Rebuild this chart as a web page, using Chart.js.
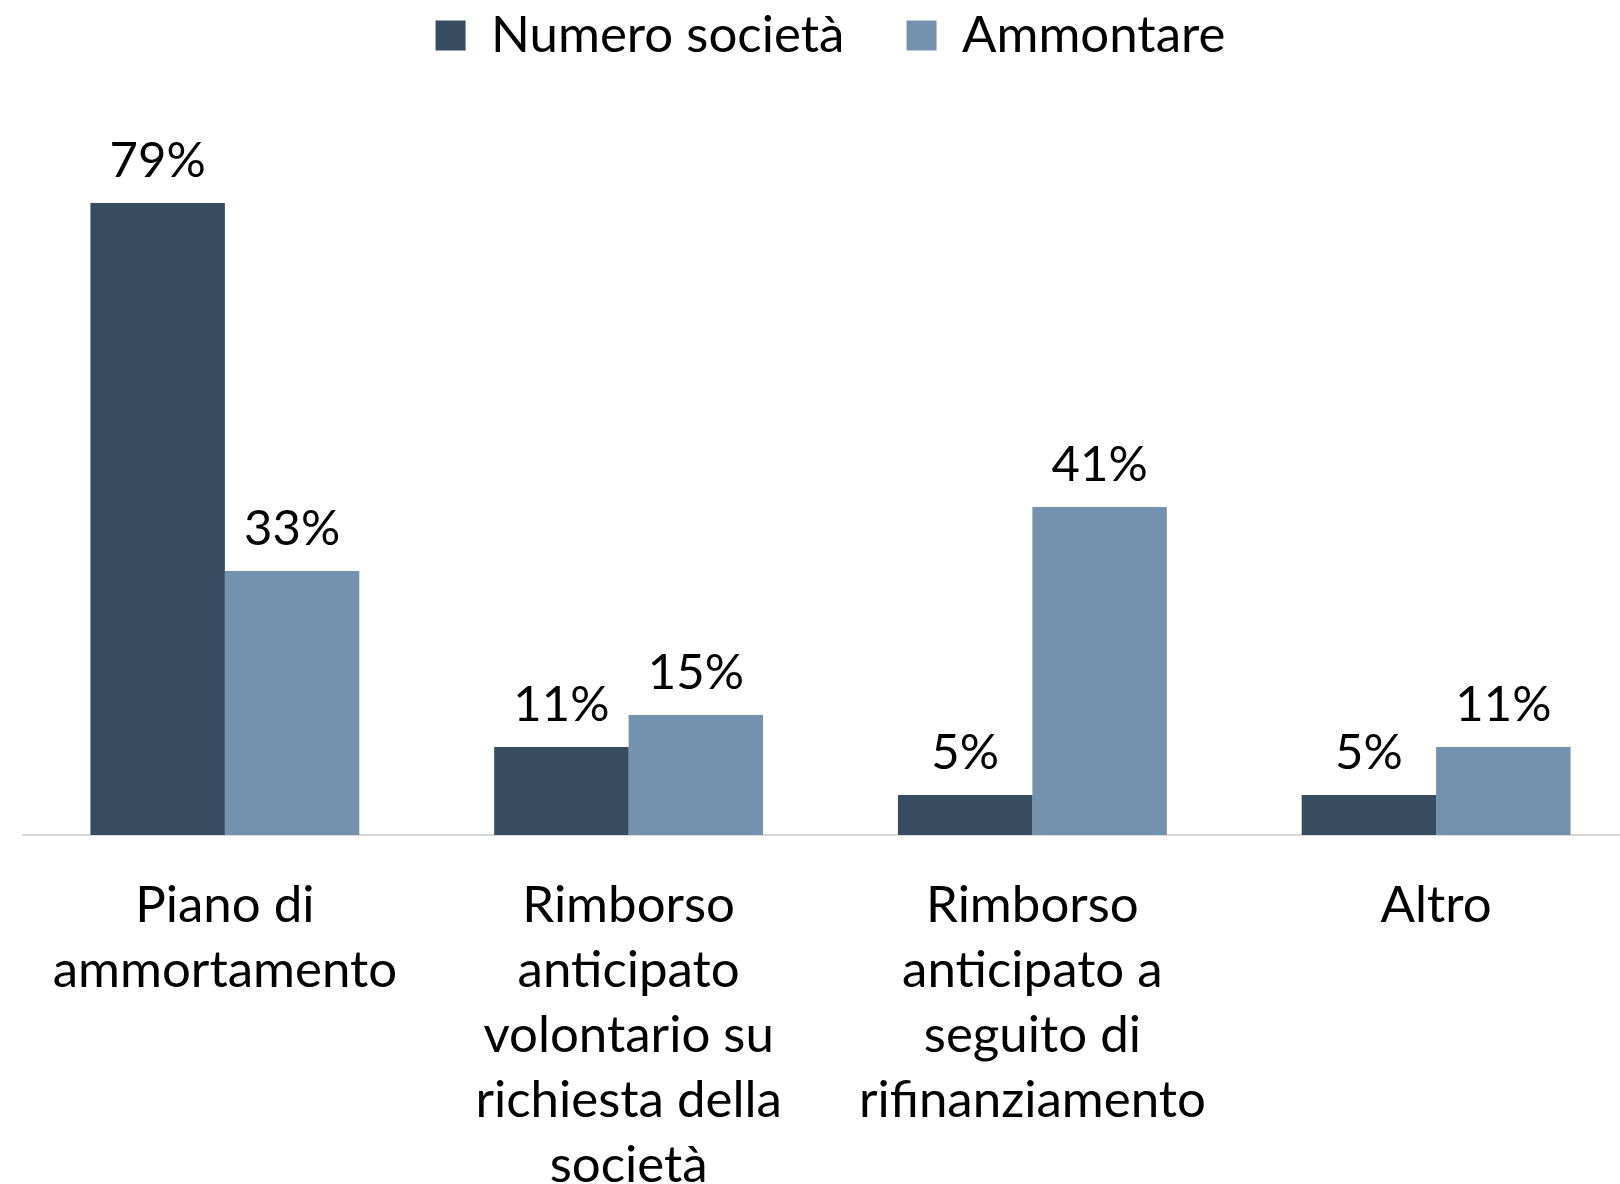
<!DOCTYPE html>
<html>
<head>
<meta charset="utf-8">
<script src="https://cdn.jsdelivr.net/npm/chart.js@4.4.0/dist/chart.umd.min.js"></script>
<style>
  html, body { margin: 0; padding: 0; background: #fff; overflow: hidden; }
  #wrap { width: 1640px; height: 1236px; }
</style>
</head>
<body>
<div id="wrap"><canvas id="bar" width="1640" height="1236"></canvas></div>
<script>
var categories = [
  ["Piano di", "ammortamento"],
  ["Rimborso", "anticipato", "volontario su", "richiesta della", "società"],
  ["Rimborso", "anticipato a", "seguito di", "rifinanziamento"],
  ["Altro"]
];
var seriesNames = ["Numero società", "Ammontare"];
var numeroSocieta = [79, 11, 5, 5];
var ammontare = [33, 15, 41, 11];

var fontFamily = "Lato, 'Open Sans', sans-serif";

// etichette sopra le barre
var barLabels = {
  id: 'barLabels',
  afterDatasetsDraw: function (chart) {
    var ctx = chart.ctx;
    ctx.save();
    ctx.font = "49px " + fontFamily;
    ctx.fillStyle = '#000';
    ctx.textAlign = 'center';
    ctx.textBaseline = 'alphabetic';
    chart.data.datasets.forEach(function (ds, i) {
      chart.getDatasetMeta(i).data.forEach(function (bar, j) {
        ctx.fillText(ds.data[j] + '%', bar.x, bar.y - 26);
      });
    });
    ctx.restore();
  }
};

const data = {
  labels: categories,
  datasets: [{
    label: seriesNames[0] + '    ',
    backgroundColor: '#374B61',
    data: numeroSocieta,
  }, {
    label: seriesNames[1],
    backgroundColor: '#7491AE',
    data: ammontare,
  }]
};

const bar = {
  type: 'bar',
  data: data,
  options: {
    responsive: false,
    animation: false,
    layout: {
      padding: { left: 23, right: 2, top: 0, bottom: 0 }
    },
    datasets: {
      bar: {
        barPercentage: 1,
        categoryPercentage: 0.666
      }
    },
    plugins: {
      legend: {
        position: 'top',
        labels: {
          color: '#000',
          boxWidth: 30,
          boxHeight: 30,
          padding: 10,
          font: { family: fontFamily, size: 51 }
        }
      },
      tooltip: { enabled: false }
    },
    scales: {
      x: {
        grid: { display: false, drawTicks: false },
        border: { display: true, color: '#d9d9d9', width: 2 },
        ticks: {
          color: '#000',
          padding: 38,
          autoSkip: false,
          maxRotation: 0,
          minRotation: 0,
          font: { family: fontFamily, size: 51, lineHeight: 1.275 }
        }
      },
      y: {
        display: false,
        beginAtZero: true,
        min: 0,
        max: 95.5
      }
    }
  },
  plugins: [barLabels]
};

var chart = new Chart(document.getElementById('bar'), bar);
</script>
</body>
</html>
